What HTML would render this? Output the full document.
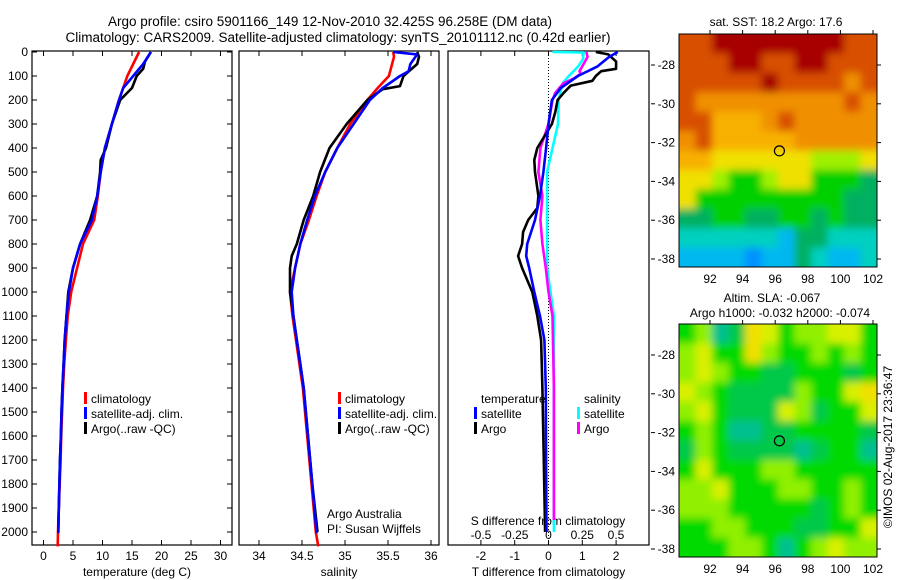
<!DOCTYPE html>
<html><head><meta charset="utf-8">
<style>
html,body{margin:0;padding:0;background:#fff;}
svg{display:block;font-family:"Liberation Sans",sans-serif;}
text{font-size:12px;fill:#000;}
</style></head>
<body>
<svg id="fig" width="900" height="580" viewBox="0 0 900 580" xmlns="http://www.w3.org/2000/svg">
<defs>
<filter id="smooth" x="-5%" y="-5%" width="110%" height="110%"><feGaussianBlur stdDeviation="4"/></filter>
<clipPath id="clipMap1"><rect x="679" y="34" width="198" height="233"/></clipPath>
<clipPath id="clipMap2"><rect x="679" y="324" width="198" height="233"/></clipPath>
</defs>
<text x="330" y="26" text-anchor="middle" style="font-size:13.5px">Argo profile: csiro 5901166_149 12-Nov-2010 32.425S 96.258E (DM data)</text>
<text x="338" y="42" text-anchor="middle" style="font-size:13.5px">Climatology: CARS2009. Satellite-adjusted climatology: synTS_20101112.nc (0.42d earlier)</text>
<g id="plots"></g>
</svg>
<script>
// ---------- data ----------
const depthTicks = [0,100,200,300,400,500,600,700,800,900,1000,1100,1200,1300,1400,1500,1600,1700,1800,1900,2000];
const tempTicks = [0,5,10,15,20,25,30];
const salTicks = [34,34.5,35,35.5,36];
const tdiffTicks = [-2,-1,0,1,2];
const sdiffTicks = [-0.5,-0.25,0,0.25,0.5];
const sdiffTickLabels = ["-0.5","-0.25","0","0.25","0.5"];

const tClimDepth = [0,100,200,300,400,500,600,700,800,900,1000,1100,1200,1300,1400,1500,1600,1700,1800,1900,2000,2060];
const tClimVal   = [16.2,14.2,12.8,11.6,10.4,9.7,9.2,8.6,6.7,5.7,4.7,4.1,3.8,3.5,3.3,3.15,3.0,2.9,2.75,2.6,2.45,2.4];
const tSatDepth = [0,50,100,150,200,300,400,500,600,700,800,900,1000,1100,1200,1300,1400,1500,1600,1700,1800,1900,2005];
const tSatVal   = [18.2,16.9,15.2,13.5,12.8,11.6,10.4,9.7,9.1,8.2,6.2,5.0,4.3,3.9,3.6,3.4,3.2,3.05,2.95,2.8,2.7,2.6,2.5];
const tArgoDepth = [0,40,70,100,150,180,200,300,400,450,500,600,700,800,900,1000,1100,1200,1300,1400,1500,1600,1700,1800,1900,2000];
const tArgoVal   = [18.2,17.2,16.9,15.8,15.0,13.8,13.0,11.6,10.6,9.7,9.6,9.1,7.9,6.2,5.0,4.2,3.9,3.6,3.4,3.2,3.05,2.95,2.8,2.7,2.6,2.5];

const sClimDepth = [0,20,100,150,200,300,400,500,600,700,800,900,1000,1100,1200,1300,1400,1600,1800,2000,2060];
const sClimVal   = [35.56,35.57,35.51,35.38,35.26,35.06,34.91,34.77,34.67,34.58,34.48,34.42,34.36,34.39,34.43,34.47,34.51,34.56,34.61,34.66,34.69];
const sSatDepth = [0,10,50,80,100,150,200,300,400,500,600,700,800,900,1000,1100,1200,1300,1400,1600,1800,2005];
const sSatVal   = [35.56,35.84,35.76,35.74,35.64,35.44,35.29,35.10,34.91,34.77,34.65,34.56,34.48,34.42,34.38,34.40,34.44,34.48,34.52,34.57,34.62,34.67];
const sArgoDepth = [0,20,50,100,142,155,200,300,400,500,600,700,800,850,900,1000,1100,1200,1300,1400,1600,1800,2000];
const sArgoVal   = [35.84,35.86,35.84,35.68,35.64,35.44,35.26,35.02,34.82,34.71,34.63,34.52,34.44,34.38,34.36,34.36,34.40,34.44,34.48,34.52,34.57,34.62,34.68];

const dTSatDepth = [0,20,60,100,150,200,300,400,500,600,700,800,850,900,1000,1100,1200,1400,1700,2000];
const dTSatVal   = [2.05,1.8,1.45,0.87,0.36,0.1,0,-0.07,-0.15,-0.25,-0.4,-0.63,-0.66,-0.57,-0.42,-0.25,-0.12,-0.08,-0.07,-0.06];
const dTArgoDepth = [0,10,40,70,80,100,120,140,170,200,250,300,400,450,500,600,650,700,750,800,850,900,1000,1100,1200,1400,1700,2000];
const dTArgoVal   = [1.4,1.77,2.0,2.0,1.56,1.4,1.3,0.66,0.45,0.27,0.2,0.1,-0.33,-0.42,-0.4,-0.3,-0.33,-0.6,-0.75,-0.78,-0.9,-0.78,-0.48,-0.33,-0.22,-0.18,-0.14,-0.1];
const dSSatDepth = [0,2,30,60,100,130,200,300,400,500,700,900,1000,1100,1400,1700,2000];
const dSSatVal   = [0.03,0.26,0.255,0.22,0.15,0.105,0.075,0.07,0.03,-0.01,-0.01,-0.01,0.015,0.04,0.04,0.04,0.04];
const dSArgoDepth = [0,20,50,80,90,110,130,170,200,300,400,500,600,700,800,900,1000,1100,1400,1700,1950];
const dSArgoVal   = [0.28,0.29,0.26,0.23,0.24,0.19,0.11,0.05,0.03,0,-0.06,-0.075,-0.045,-0.06,-0.045,-0.02,0,0.03,0.04,0.04,0.04];

const lonTicks = [92,94,96,98,100,102];
const latTicks = [-28,-30,-32,-34,-36,-38];
const argoLon = 96.258, argoLat = -32.425;
const sstColors = ["#0090ff","#00b8f0","#00d0c0","#00b060","#00d000","#a0f000","#f0e000","#f8b000","#f09000","#d85000","#a80000"];
const sstGrid = [
[9,9,10,10,10,10,10,10,10,10,9,9],
[9,9,9,10,10,9,9,10,10,9,9,9],
[9,9,9,9,9,10,9,9,9,9,8,9],
[9,8,8,8,8,8,8,8,8,8,9,8],
[9,9,7,7,7,8,9,8,8,8,8,8],
[8,9,7,7,7,7,7,8,8,8,8,8],
[7,7,6,6,6,6,6,6,5,5,5,6],
[6,6,5,4,4,5,6,6,4,4,4,3],
[6,4,4,4,4,4,4,4,4,4,3,3],
[3,3,4,4,3,3,4,4,3,4,3,3],
[2,2,2,2,2,2,1,3,3,2,2,2],
[1,1,1,1,0,1,1,3,2,1,1,2]];
const slaColors = ["#30c8d0","#00c090","#00c848","#00da00","#90f000","#d8f000","#f0e000"];
const slaGrid = [
[3,4,1,2,6,5,3,4,4,5,5,3],
[4,5,3,3,6,4,3,3,4,3,4,3],
[4,5,4,3,3,2,2,3,3,3,2,3],
[5,4,3,2,2,2,2,4,3,3,5,6],
[4,5,3,2,2,2,5,4,2,3,3,5],
[3,4,3,1,1,2,2,3,3,3,3,2],
[2,4,3,2,2,2,2,1,2,3,3,1],
[3,5,3,3,3,4,4,3,3,3,3,3],
[4,4,5,3,3,3,4,4,3,3,4,3],
[4,4,4,3,3,3,3,3,2,3,4,3],
[3,3,4,4,3,3,3,2,2,3,3,5],
[3,3,3,4,4,3,1,3,4,5,4,4]];

// ---------- drawing ----------
const NS = "http://www.w3.org/2000/svg";
const root = document.getElementById('plots');
function mk(tag, attrs, parent){ const e=document.createElementNS(NS,tag); for(const k in attrs) e.setAttribute(k,attrs[k]); (parent||root).appendChild(e); return e; }
function txt(x,y,s,anchor,parent){ const t=mk('text',{x:x,y:y,'text-anchor':anchor||'start'},parent); t.textContent=s; return t; }

const yTop=52, yBot=545;
const yD = d => yTop + d*0.24;
const panels = [
 {name:'temperature-panel', x0:32, x1:232, f:v=>43.5+v*5.9},
 {name:'salinity-panel', x0:239, x1:439, f:v=>259+(v-34)*86},
 {name:'difference-panel', x0:448, x1:649, f:v=>548.5+v*33.8}
];
const fS = v=>548.5+v*135;

panels.forEach((p,i)=>{
  const g = mk('g',{});
  
  
  const r = mk('rect',{x:p.x0,y:yTop-1,width:p.x1-p.x0,height:yBot-yTop+1,fill:'none',stroke:'#000','stroke-width':1.2},g);
  
  
});

depthTicks.forEach(d=>{
  const y=yD(d);
  const t=txt(28,y+4,String(d),'end');
  
  
  mk('line',{x1:32,x2:37,y1:y,y2:y,stroke:'#000'});
  mk('line',{x1:227,x2:232,y1:y,y2:y,stroke:'#000'});
});
function xAxis(p,ticks,labels,title){
  ticks.forEach((v,i)=>{
    const x=p.f(v);
    mk('line',{x1:x,x2:x,y1:yTop-1,y2:yTop+4,stroke:'#000'});
    mk('line',{x1:x,x2:x,y1:yBot,y2:yBot-5,stroke:'#000'});
    const t=txt(x,560,labels[i],'middle');
    
    
  });
  const t=txt((p.x0+p.x1)/2+ (p.x0<40?5:0),576,title,'middle');
  
  
}
xAxis(panels[0],tempTicks,tempTicks.map(String),'temperature (deg C)');
xAxis(panels[1],salTicks,salTicks.map(String),'salinity');
xAxis(panels[2],tdiffTicks,tdiffTicks.map(String),'T difference from climatology');
sdiffTicks.forEach((v,i)=>{
  const t=txt(fS(v),539,sdiffTickLabels[i],'middle');
  
  
});
{const t=txt(548,525,'S difference from climatology','middle');

}
{const l=mk('line',{x1:548.5,x2:548.5,y1:yTop,y2:yBot,stroke:'#000','stroke-dasharray':'1,2'});

}

function series(depths,vals,fx,color,name,w){
  const pts = depths.map((d,i)=>fx(vals[i]).toFixed(1)+','+yD(d).toFixed(1)).join(' ');
  const pl = mk('polyline',{points:pts,fill:'none',stroke:color,'stroke-width':w||2.6,'stroke-linejoin':'round'});
  
  
}
const fT=panels[0].f, fSal=panels[1].f, fD=panels[2].f;
series(tClimDepth,tClimVal,fT,'#ff0000','temp-climatology-line');
series(tArgoDepth,tArgoVal,fT,'#000000','temp-argo-line');
series(tSatDepth,tSatVal,fT,'#0000ff','temp-satellite-line');
series(sClimDepth,sClimVal,fSal,'#ff0000','sal-climatology-line');
series(sArgoDepth,sArgoVal,fSal,'#000000','sal-argo-line');
series(sSatDepth,sSatVal,fSal,'#0000ff','sal-satellite-line');
series(dSSatDepth,dSSatVal,fS,'#00ffff','sdiff-satellite-line');
series(dSArgoDepth,dSArgoVal,fS,'#ff00ff','sdiff-argo-line');
series(dTArgoDepth,dTArgoVal,fD,'#000000','tdiff-argo-line');
series(dTSatDepth,dTSatVal,fD,'#0000ff','tdiff-satellite-line');

function legendItem(x,y,color,label){
  const r=mk('rect',{x:x,y:y-11,width:3,height:12,fill:color});
  
  
  const t=txt(x+7,y,label);
  
  
}
[[84,'#ff0000','climatology'],[84,'#0000ff','satellite-adj. clim.'],[84,'#000000','Argo(..raw -QC)']].forEach((e,i)=>legendItem(e[0],403+i*15,e[1],e[2]));
[[338,'#ff0000','climatology'],[338,'#0000ff','satellite-adj. clim.'],[338,'#000000','Argo(..raw -QC)']].forEach((e,i)=>legendItem(e[0],403+i*15,e[1],e[2]));
{const t=txt(481,403,'temperature');  }
{const t=txt(584,403,'salinity');  }
legendItem(474,418,'#0000ff','satellite');
legendItem(474,433,'#000000','Argo');
legendItem(577,418,'#00ffff','satellite');
legendItem(577,433,'#ff00ff','Argo');
{const t=txt(327,518,'Argo Australia');  }
{const t=txt(327,533,'PI: Susan Wijffels');  }

// ---------- maps ----------
const mx0=679, mx1=877;
const lonX = lon => 710+(lon-92)*16.3;
function drawMap(top,grid,colors,name,clipId){
  const h=233, bottom=top+h;
  const g=mk('g',{});
  
  
  const cg=mk('g',{'clip-path':'url(#'+clipId+')'},g);
  const fg=mk('g',{filter:'url(#smooth)'},cg);
  const cw=(mx1-mx0)/12, ch=h/12;
  grid.forEach((row,r)=>row.forEach((v,c)=>{
    // extend edge cells outward so blur doesn't fade at borders
    let x=mx0+c*cw, y=top+r*ch, w=cw+0.6, hh=ch+0.6;
    if(c===0){x-=12;w+=12;} if(c===11){w+=12;}
    if(r===0){y-=12;hh+=12;} if(r===11){hh+=12;}
    mk('rect',{x:x.toFixed(2),y:y.toFixed(2),width:w.toFixed(2),height:hh.toFixed(2),fill:colors[v]},fg);
  }));
  mk('rect',{x:mx0,y:top,width:mx1-mx0,height:h,fill:'none',stroke:'#000','stroke-width':1},g);
  const latY = lat => top+31+(-28-lat)*19.4;
  latTicks.forEach(l=>{
    const y=latY(l);
    const t=txt(675,y+4,String(l),'end',g);
    
    
    mk('line',{x1:mx1,x2:mx1+4,y1:y,y2:y,stroke:'#000'},g);
    mk('line',{x1:651,x2:655,y1:y,y2:y,stroke:'#000'},g);
  });
  lonTicks.forEach(l=>{
    const x=lonX(l);
    const t=txt(x,bottom+16,String(l),'middle',g);
    
    
    mk('line',{x1:x,x2:x,y1:top,y2:top-4,stroke:'#000'},g);
  });
  const c=mk('circle',{cx:lonX(argoLon),cy:latY(argoLat),r:5,fill:'none',stroke:'#000','stroke-width':1.2},g);
  
  
}
drawMap(34,sstGrid,sstColors,'sst-map','clipMap1');
drawMap(324,slaGrid,slaColors,'sla-map','clipMap2');
{const t=txt(776,26,'sat. SST: 18.2 Argo: 17.6','middle');  }
{const t=txt(772,302,'Altim. SLA: -0.067','middle');  }
{const t=txt(780,317,'Argo h1000: -0.032 h2000: -0.074','middle');  }
{const t=txt(0,0,'©IMOS 02-Aug-2017 23:36:47','middle'); t.setAttribute('transform','translate(892,447) rotate(-90)');  }
</script>
</body></html>
